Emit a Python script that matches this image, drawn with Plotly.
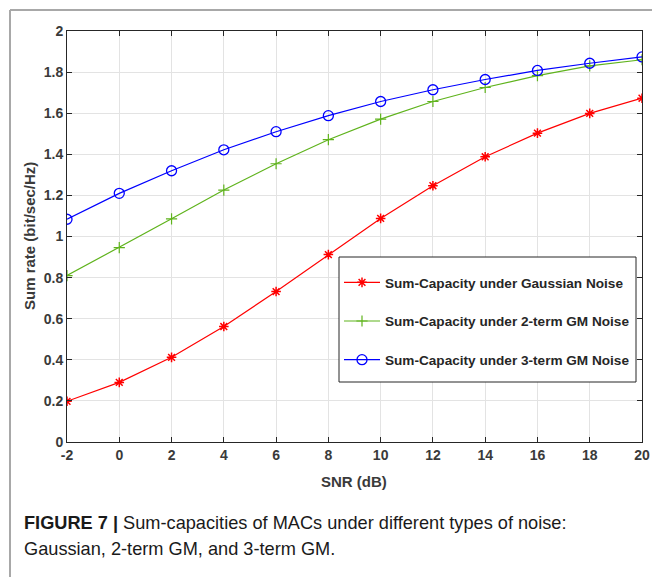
import plotly.graph_objects as go

snr = [-2, 0, 2, 4, 6, 8, 10, 12, 14, 16, 18, 20]
gaussian = [0.198, 0.290, 0.412, 0.562, 0.732, 0.912, 1.088, 1.247, 1.388, 1.503, 1.599, 1.673]
gm2 = [0.810, 0.946, 1.086, 1.226, 1.354, 1.471, 1.571, 1.657, 1.725, 1.783, 1.830, 1.860]
gm3 = [1.084, 1.210, 1.320, 1.422, 1.510, 1.588, 1.657, 1.714, 1.764, 1.808, 1.843, 1.874]

names = ["Sum-Capacity under Gaussian Noise",
         "Sum-Capacity under 2-term GM Noise",
         "Sum-Capacity under 3-term GM Noise"]
x_ticks = [-2, 0, 2, 4, 6, 8, 10, 12, 14, 16, 18, 20]
y_ticks = [0, 0.2, 0.4, 0.6, 0.8, 1, 1.2, 1.4, 1.6, 1.8, 2]
y_tick_labels = ["0", "0.2", "0.4", "0.6", "0.8", "1", "1.2", "1.4", "1.6", "1.8", "2"]

W, H = 652, 577
PL, PR, PT, PB = 67, 642, 31, 442  # plot area in pixels
L, R, T, B = PL, W - PR, PT, H - PB
pw, ph = W - L - R, H - T - B

def px_x(p):
    return (p - L) / pw

def px_y(p):
    return (H - B - p) / ph

FONT = "Liberation Sans, Arial, sans-serif"

fig = go.Figure()
fig.add_trace(go.Scatter(x=snr, y=gaussian, name=names[0], mode="lines+markers",
                         line=dict(color="#ff0000", width=1.2),
                         marker=dict(symbol="asterisk-open", size=8, color="#ff0000",
                                     line=dict(width=1.5, color="#ff0000")),
                         legendgroup="a"))
fig.add_trace(go.Scatter(x=snr, y=gm2, name=names[1], mode="lines+markers",
                         line=dict(color="#5fb31c", width=1.2),
                         marker=dict(symbol="cross-thin-open", size=8, color="#5fb31c",
                                     line=dict(width=1.2, color="#5fb31c")),
                         legendgroup="b"))
fig.add_trace(go.Scatter(x=snr, y=gm3, name=names[2], mode="lines+markers",
                         line=dict(color="#0000ff", width=1.2),
                         marker=dict(symbol="circle-open", size=10, color="#0000ff",
                                     line=dict(width=1.3, color="#0000ff")),
                         legendgroup="c"))

axis_font = dict(family=FONT, size=14, color="#3a3a3a", weight="bold")

fig.update_xaxes(range=[-2, 20], tickvals=x_ticks, ticktext=[str(v) for v in x_ticks],
                 showgrid=True, gridcolor="#e3e3e3", gridwidth=1,
                 showline=True, linecolor="#262626", linewidth=1, mirror="ticks",
                 ticks="inside", ticklen=5, tickcolor="#262626",
                 tickfont=axis_font, zeroline=False, automargin=False)
fig.update_yaxes(range=[0, 2], tickvals=y_ticks, ticktext=y_tick_labels,
                 showgrid=True, gridcolor="#e3e3e3", gridwidth=1,
                 showline=True, linecolor="#262626", linewidth=1, mirror="ticks",
                 ticks="inside", ticklen=5, tickcolor="#262626",
                 tickfont=axis_font, zeroline=False, automargin=False)

fig.update_layout(
    width=W, height=H,
    margin=dict(l=L, r=R, t=T, b=B, pad=0),
    paper_bgcolor="white", plot_bgcolor="white",
    font=dict(family=FONT, color="#3a3a3a"),
    showlegend=True,
    legend=dict(x=px_x(339), y=px_y(267), xanchor="left", yanchor="top",
                bgcolor="rgba(0,0,0,0)", borderwidth=0,
                font=dict(family=FONT, size=13.6, color="#262626", weight="bold"),
                tracegroupgap=18, itemwidth=36),
    shapes=[
        dict(type="rect", xref="paper", yref="paper", x0=px_x(339), x1=px_x(636),
             y0=px_y(257), y1=px_y(382), layer="above", fillcolor="white",
             line=dict(color="#262626", width=1)),
        dict(type="line", xref="paper", yref="paper", x0=px_x(10), x1=px_x(660),
             y0=px_y(10), y1=px_y(10), line=dict(color="#a8a8a8", width=2)),
        dict(type="line", xref="paper", yref="paper", x0=px_x(10), x1=px_x(10),
             y0=px_y(10), y1=px_y(590), line=dict(color="#a8a8a8", width=2)),
    ],
    annotations=[
        dict(xref="paper", yref="paper", x=px_x(354), y=px_y(481), xanchor="center", yanchor="middle",
             showarrow=False, text="<b>SNR (dB)</b>",
             font=dict(family=FONT, size=15, color="#3a3a3a")),
        dict(xref="paper", yref="paper", x=px_x(30), y=px_y(236), xanchor="center", yanchor="middle",
             showarrow=False, text="<b>Sum rate (bit/sec/Hz)</b>", textangle=-90,
             font=dict(family=FONT, size=15, color="#3a3a3a")),
        dict(xref="paper", yref="paper", x=px_x(22), y=px_y(523), xanchor="left", yanchor="middle",
             showarrow=False, align="left",
             text="<b>FIGURE 7 |</b> Sum-capacities of MACs under different types of noise:",
             font=dict(family=FONT, size=18.2, color="#1a1a1a")),
        dict(xref="paper", yref="paper", x=px_x(22), y=px_y(549), xanchor="left", yanchor="middle",
             showarrow=False, align="left",
             text="Gaussian, 2-term GM, and 3-term GM.",
             font=dict(family=FONT, size=18.2, color="#1a1a1a")),
    ],
)

fig.write_html("out.html", config={"displayModeBar": False},
               post_script="document.body.style.margin='0px';document.body.style.overflow='hidden';")
